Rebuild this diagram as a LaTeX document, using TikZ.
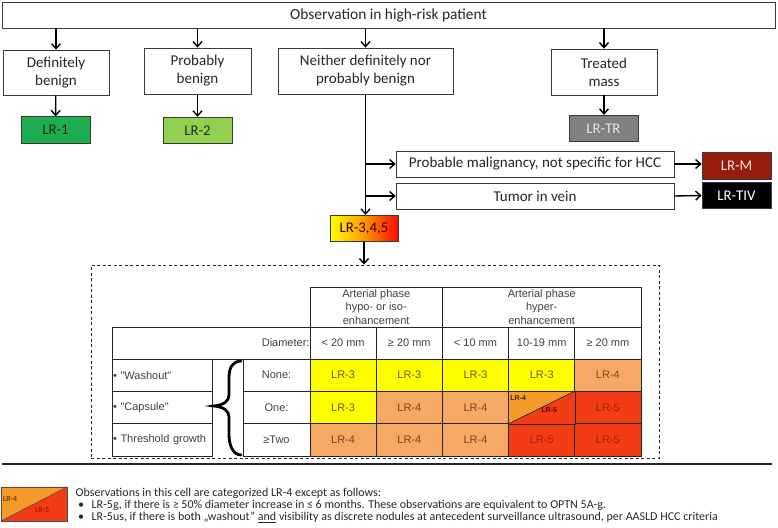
\documentclass[tikz,border=0pt]{standalone}
\usepackage{fontspec}
\setmainfont{Carlito}
\newfontfamily\tabfont{Liberation Sans}
\usetikzlibrary{arrows.meta,calc}

\definecolor{lrone}{HTML}{1DAF4F}
\definecolor{lrtwo}{HTML}{92D050}
\definecolor{lrtr}{HTML}{808080}
\definecolor{lrm}{HTML}{961D0E}
\definecolor{cyel}{HTML}{FFFF00}
\definecolor{clor}{HTML}{F5A964}
\definecolor{cred}{HTML}{F23C14}
\definecolor{corg}{HTML}{F79A2C}
\definecolor{boxline}{HTML}{3A3A3A}
\definecolor{tthree}{HTML}{6E5A14}
\definecolor{tfour}{HTML}{7A4520}
\definecolor{tfive}{HTML}{A01E0A}

\begin{document}
\begin{tikzpicture}[x=1pt,y=-1pt,
  flow/.style={draw=boxline, line width=0.8pt, fill=white, inner sep=0pt, align=center, text=black!85, font=\fontsize{15}{18}\selectfont},
  lrbox/.style={draw=boxline, line width=0.8pt, inner sep=0pt, minimum width=69pt, minimum height=26.5pt, font=\fontsize{14.8}{16}\selectfont},
  arr/.style={line width=1.4pt, -{Straight Barb[length=5pt,width=9pt]}},
  cell/.style={draw=black!85, line width=0.7pt, inner sep=0pt, minimum width=66.2pt, minimum height=32.3pt, font=\tabfont\fontsize{11}{13}\selectfont, text=black!75},
  ythree/.style={cell, fill=cyel, text=tthree},
  ofour/.style={cell, fill=clor, text=tfour},
  rfive/.style={cell, fill=cred, text=tfive},
  tiny/.style={inner sep=0pt, font=\tabfont\fontsize{7}{8}\selectfont\bfseries},
  foot/.style={inner sep=0pt, anchor=west, font=\fontsize{12}{13}\selectfont, text=black!85}
]
\useasboundingbox (0,0) rectangle (778,527);

% ---------- flowchart ----------
\node[flow, minimum width=773pt, minimum height=26pt, font=\fontsize{15.4}{18}\selectfont] (obs) at (388.5,15) {Observation in high-risk patient};

\node[flow, minimum width=106pt, minimum height=45pt] (def) at (56,72.5) {Definitely\\benign};
\node[flow, minimum width=107pt, minimum height=46pt] (prob) at (197.5,71) {Probably\\benign};
\node[flow, minimum width=175pt, minimum height=46pt] (nei) at (365.5,71) {Neither definitely nor\\probably benign};
\node[flow, minimum width=106pt, minimum height=46pt] (trt) at (604,72) {Treated\\mass};

\node[lrbox, fill=lrone, text=black!85] (lr1) at (55.5,130) {LR-1};
\node[lrbox, fill=lrtwo, text=black!85] (lr2) at (197.5,130.5) {LR-2};
\node[lrbox, fill=lrtr, text=black!10] (lrtr) at (603.5,128.5) {LR-TR};

\node[flow, minimum width=278pt, minimum height=26pt] (pm) at (535,164) {Probable malignancy, not specific for HCC};
\node[flow, minimum width=278pt, minimum height=26pt] (tiv) at (535,196) {Tumor in vein};

\node[lrbox, fill=lrm, text=white!90!red] (lrm) at (736.5,166) {LR-M};
\node[lrbox, fill=black, text=white] (lrtiv) at (736.5,195.5) {LR-TIV};

\node[lrbox, left color=yellow, right color=red!95!orange, middle color=orange!80!yellow, text=black!80!red, minimum width=68pt] (lr345) at (364,228.5) {LR-3,4,5};

\foreach \n in {def,prob,nei,trt}
  \draw[arr] (obs.south -| \n.north) -- (\n.north);
\draw[arr] (def) -- (lr1);
\draw[arr] (prob) -- (lr2);
\draw[arr] (trt.south) -- (trt.south |- lrtr.north);
\draw[arr] (nei.south) -- (nei.south |- lr345.north);
\draw[arr] (nei.south |- pm.west) -- (pm.west);
\draw[arr] (nei.south |- tiv.west) -- (tiv.west);
\draw[arr] (pm.east) -- (pm.east -| lrm.west);
\draw[arr] (tiv.east) -- (lrtiv.west);

% ---------- dashed frame ----------
\node[draw=black!85, line width=0.9pt, dash pattern=on 3pt off 2.5pt, minimum width=568pt, minimum height=193pt, inner sep=0pt] (dbox) at (375,361.5) {};
\draw[arr] (lr345.south) -- (lr345.south |- dbox.north);

% ---------- table ----------
\node[cell, minimum width=132.4pt, minimum height=40pt, font=\tabfont\fontsize{11}{13.2}\selectfont, align=center] (hypo) at (376.2,307) {Arterial phase\\hypo- or iso-\\enhancement};
\node[cell, minimum width=198.6pt, minimum height=40pt, font=\tabfont\fontsize{11}{13.2}\selectfont, align=center] (hyper) at (541.7,307) {Arterial phase\\hyper-\\enhancement};

\node[cell, minimum width=198pt, text width=197pt, align=right] (diam) at (211,343) {Diameter:};
\node[cell] (d1) at (343.1,343) {< 20 mm};
\node[cell] (d2) at (409.3,343) {≥ 20 mm};
\node[cell] (d3) at (475.5,343) {< 10 mm};
\node[cell] (d4) at (541.7,343) {10-19 mm};
\node[cell] (d5) at (607.9,343) {≥ 20 mm};

\node[cell, minimum width=100pt, text width=98pt, align=left] (l1) at (162,375.2) {\textbullet\ "Washout"};
\node[cell, minimum width=100pt, text width=98pt, align=left] (l2) at (162,407.5) {\textbullet\ "Capsule"};
\node[cell, minimum width=100pt, text width=98pt, align=left] (l3) at (162,439.8) {\textbullet\ Threshold growth};

\node[cell, minimum width=67pt] (n1) at (276.5,375.2) {None:};
\node[cell, minimum width=67pt] (n2) at (276.5,407.5) {One:};
\node[cell, minimum width=67pt] (n3) at (276.5,439.8) {≥Two};

% brace
\draw[line width=2.8pt, line cap=round] (241,361) .. controls (232,361.5) and (229,368) .. (229,378) -- (229,395)
  .. controls (229,401) and (224,405) .. (214,406) .. controls (224,407) and (229,411) .. (229,417)
  -- (229,434) .. controls (229,444) and (232,454.5) .. (241,455);

% cells
\node[ythree] (c11) at (343.1,375.2) {LR-3};
\node[ythree] (c12) at (409.3,375.2) {LR-3};
\node[ythree] (c13) at (475.5,375.2) {LR-3};
\node[ythree] (c14) at (541.7,375.2) {LR-3};
\node[ofour]  (c15) at (607.9,375.2) {LR-4};

\node[ythree] (c21) at (343.1,407.5) {LR-3};
\node[ofour]  (c22) at (409.3,407.5) {LR-4};
\node[ofour]  (c23) at (475.5,407.5) {LR-4};
\node[cell]   (c24) at (541.7,407.5) {};
\node[rfive]  (c25) at (607.9,407.5) {LR-5};

\node[ofour]  (c31) at (343.1,439.8) {LR-4};
\node[ofour]  (c32) at (409.3,439.8) {LR-4};
\node[ofour]  (c33) at (475.5,439.8) {LR-4};
\node[rfive]  (c34) at (541.7,439.8) {LR-5};
\node[rfive]  (c35) at (607.9,439.8) {LR-5};

% split cell
\fill[corg] (c24.north west) -- (c24.north east) -- (c24.south west) -- cycle;
\fill[cred] (c24.north east) -- (c24.south east) -- (c24.south west) -- cycle;
\draw[black!85, line width=0.7pt] (c24.north west) rectangle (c24.south east);
\draw[black!85, line width=0.7pt] (c24.south west) -- (c24.north east);
\node[tiny, anchor=north west, text=black!85] (s4) at ($(c24.north west)+(2,4)$) {LR-4};
\node[tiny, anchor=north west, text=black!70!red] (s5) at ($(c24.north west)+(33,16)$) {LR-5};

% ---------- rule ----------
\draw[line width=1.3pt, black!85] (2,464) -- (772,464);

% ---------- legend ----------
\node[inner sep=0pt, minimum width=66pt, minimum height=34pt] (leg) at (34,504) {};
\fill[corg] (leg.north west) -- (leg.north east) -- (leg.south west) -- cycle;
\fill[cred] (leg.north east) -- (leg.south east) -- (leg.south west) -- cycle;
\draw[black!70, line width=0.6pt] (leg.north west) rectangle (leg.south east);
\draw[black!70, line width=0.6pt] (leg.south west) -- (leg.north east);
\node[inner sep=0pt, anchor=north west, font=\fontsize{8}{9}\selectfont, text=black!70!orange] (g4) at ($(leg.north west)+(2,9)$) {LR-4};
\node[inner sep=0pt, anchor=north west, font=\fontsize{8}{9}\selectfont, text=black!40!red] (g5) at ($(leg.north west)+(34,20)$) {LR-5};

\node[foot] (t0) at (75.5,493) {Observations in this cell are categorized LR-4 except as follows:};
\node[foot] (b1) at (78,505.5) {•};
\node[foot] (t1) at (91.5,505.5) {LR-5g, if there is ≥ 50\% diameter increase in ≤ 6 months. These observations are equivalent to OPTN 5A-g.};
\node[foot] (b2) at (78,517.5) {•};
\node[foot] (t2) at (91.5,517.5) {LR-5us, if there is both „washout" \underline{and} visibility as discrete nodules at antecedent surveillance ultrasound, per AASLD HCC criteria};
\end{tikzpicture}
\end{document}
